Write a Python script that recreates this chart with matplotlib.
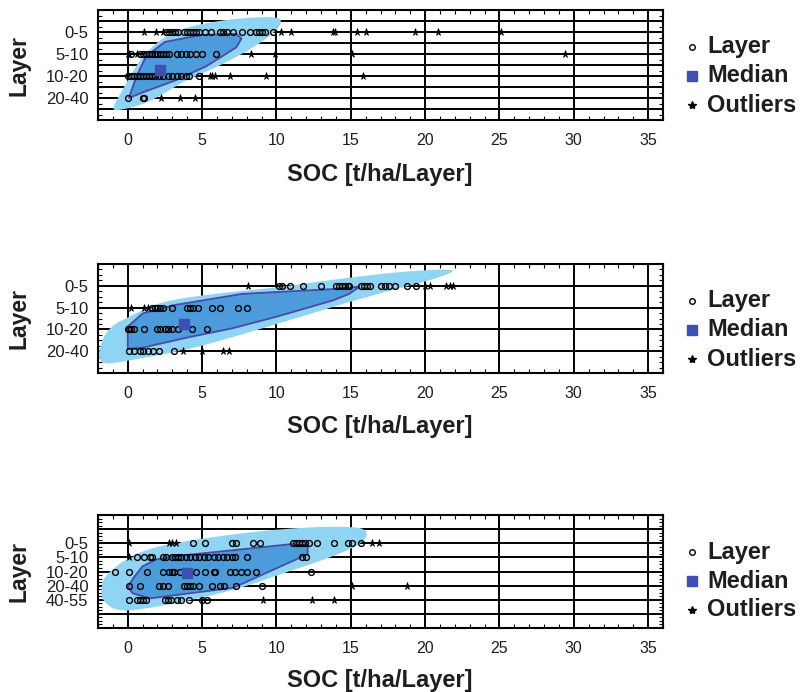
import numpy as np
import matplotlib
matplotlib.use("Agg")
import matplotlib.pyplot as plt
from matplotlib.patches import Polygon
from matplotlib.lines import Line2D

plt.rcParams['font.family'] = ['Liberation Sans', 'DejaVu Sans']

# ---------------- data ----------------
x_ticks = [0, 5, 10, 15, 20, 25, 30, 35]
xlabel = "SOC [t/ha/Layer]"
ylabel = "Layer"
legend_labels = ["Layer", "Median", "Outliers"]

# Panel 1
p1_layers = ["0-5", "5-10", "10-20", "20-40"]
p1_points = [
    [2.6, 2.8, 3.0, 3.2, 3.4, 3.8, 4.0, 4.2, 4.4, 4.6, 4.8, 5.2, 5.6, 6.2, 6.4, 6.7, 7.1, 7.7, 8.2, 8.6, 8.8, 9.0, 9.2, 9.75],
    [0.2, 0.8, 1.0, 1.2, 1.4, 1.6, 1.8, 2.0, 2.2, 2.4, 2.6, 2.8, 3.3, 3.6, 3.9, 4.2, 4.6, 5.0, 5.95],
    [0.0, 0.2, 0.4, 0.6, 0.8, 1.0, 1.2, 1.4, 1.6, 1.8, 2.1, 2.4, 2.7, 3.0, 3.3, 3.6, 3.9, 4.15, 4.8],
    [0.05, 1.0, 1.1],
]
p1_outliers = [
    [1.1, 1.9, 2.4, 10.3, 11.0, 13.8, 13.95, 15.4, 16.0, 19.3, 20.9, 25.1],
    [0.0, 0.1, 0.65, 8.3, 9.9, 15.1, 29.4],
    [5.5, 5.7, 5.9, 6.9, 9.3, 15.8],
    [2.25, 3.5, 4.55],
]
p1_median = (2.2, 2.72)
p1_bag_x = [0.07, 0.6, 1.24, 2.5, 4.8, 7.3, 7.65, 7.3, 5.3, 3.2, 1.0]
p1_bag_y = [4.0, 3.0, 2.1, 1.45, 1.15, 1.08, 1.3, 1.7, 2.55, 3.2, 3.75]
p1_fence_x = [-1.0, -0.4, 0.2, 0.9, 1.6, 2.5, 3.8, 5.6, 7.5, 9.7, 10.4, 10.1, 8.5, 6.0, 4.0, 2.2, 0.8, -0.9]
p1_fence_y = [4.4, 3.7, 2.95, 2.2, 1.7, 1.2, 0.82, 0.55, 0.38, 0.3, 0.42, 0.9, 1.7, 2.6, 3.15, 3.9, 4.35, 4.6]

# Panel 2
p2_layers = ["0-5", "5-10", "10-20", "20-40"]
p2_points = [
    [10.2, 10.4, 10.9, 11.8, 13.0, 14.0, 14.2, 14.4, 14.6, 14.8, 14.9, 15.7, 15.9, 16.1, 16.3, 17.0, 17.3, 17.6, 18.0, 18.8, 19.4],
    [1.6, 1.8, 2.0, 2.2, 2.4, 3.0, 4.0, 4.2, 4.4, 4.7, 5.7, 6.2, 7.4, 8.0],
    [0.0, 0.1, 0.25, 0.4, 1.1, 2.0, 2.2, 2.5, 2.7, 3.0, 3.4, 4.3, 5.3],
    [0.1, 0.45, 0.8, 1.0, 1.35, 1.7, 2.1, 3.1],
]
p2_outliers = [
    [8.1, 20.0, 20.3, 21.4, 21.7, 21.9],
    [0.2, 1.1, 1.35],
    [],
    [3.7, 5.0, 6.4, 6.8],
]
p2_median = (3.8, 2.76)
p2_bag_x = [0.0, 1.0, 3.0, 7.7, 13.8, 15.6, 14.9, 13.8, 10.0, 7.1, 3.9, 1.0, 0.0]
p2_bag_y = [2.87, 2.27, 1.9, 1.37, 1.15, 1.04, 1.37, 1.67, 2.42, 2.94, 3.39, 3.84, 3.9]
p2_fence_x = [-2.0, -1.3, 0.3, 2.1, 5.3, 9.75, 13.8, 18.3, 22.5, 20.6, 18.3, 15.1, 11.5, 7.1, 3.9, 0.3, -1.8]
p2_fence_y = [3.95, 2.9, 2.35, 1.75, 1.4, 1.1, 0.72, 0.35, 0.2, 0.7, 1.1, 1.7, 2.45, 3.35, 3.95, 4.4, 4.65]

# Panel 3
p3_layers = ["0-5", "5-10", "10-20", "20-40", "40-55"]
p3_points = [
    [4.4, 5.2, 7.0, 7.3, 8.4, 8.9, 11.1, 11.3, 11.5, 11.7, 11.9, 12.2, 12.7, 13.9, 14.8, 15.1, 15.7],
    [0.65, 1.1, 1.5, 1.6, 2.35, 2.6, 3.0, 3.2, 3.4, 3.6, 3.9, 4.2, 4.5, 4.8, 5.1, 5.4, 5.8, 6.1, 6.4, 6.7, 7.0, 7.2, 8.0, 11.7, 12.0],
    [-0.85, 0.07, 1.3, 2.4, 2.8, 2.95, 3.1, 3.5, 4.6, 5.2, 5.8, 5.9, 6.85, 7.2, 7.6, 8.0, 8.6, 12.3],
    [0.1, 0.8, 2.1, 2.4, 2.7, 3.8, 4.0, 4.2, 4.4, 4.8, 5.7, 6.2, 6.5, 7.3, 9.0],
    [0.1, 0.6, 0.8, 1.0, 1.2, 2.5, 2.7, 2.9, 3.3, 3.6, 4.1, 5.0, 5.3],
]
p3_outliers = [
    [0.07, 2.8, 3.0, 3.25, 16.4, 16.9],
    [0.07],
    [],
    [15.1, 18.8],
    [9.1, 12.4, 13.9],
]
p3_median = (4.0, 3.1)
p3_bag_x = [0.0, 0.46, 1.0, 1.9, 3.3, 7.0, 11.1, 12.1, 12.1, 9.1, 7.1, 1.5, 0.34]
p3_bag_y = [4.07, 3.35, 2.63, 2.15, 1.9, 1.5, 1.05, 1.17, 1.78, 3.2, 4.15, 4.9, 4.55]
p3_fence_x = [-1.8, -1.6, 0.3, 2.6, 7.1, 11.5, 15.4, 16.2, 15.8, 13.8, 10.4, 7.1, 2.6, -0.6, -1.7]
p3_fence_y = [4.3, 3.3, 1.8, 1.05, 0.35, -0.12, -0.2, 0.2, 1.0, 1.95, 3.15, 4.35, 5.4, 5.9, 5.1]

# ---------------- styling ----------------
FENCE = '#90d4f4'
BAG = '#4c9bdb'
BAG_EDGE = '#4a4aa8'
MED = '#3d4fb0'
TXT = '#1e1e1e'

W, H = 803, 692
fig = plt.figure(figsize=(W / 100, H / 100), dpi=100)


def chaikin(xs, ys, n=2):
    pts = np.column_stack([xs, ys])
    for _ in range(n):
        nxt = []
        m = len(pts)
        for i in range(m):
            a, b = pts[i], pts[(i + 1) % m]
            nxt.append(0.75 * a + 0.25 * b)
            nxt.append(0.25 * a + 0.75 * b)
        pts = np.array(nxt)
    return pts


def panel(top, bottom, layers, points, outliers, median, bag_x, bag_y,
          fence_x, fence_y, ylim, hlines, xlabel_y):
    left, right = 98, 663
    ax = fig.add_axes([left / W, 1 - bottom / H, (right - left) / W, (bottom - top) / H])
    ax.set_xlim(-2, 36)
    ax.set_ylim(*ylim)
    # grid
    for xv in x_ticks:
        ax.axvline(xv, color='black', lw=1.4, zorder=1)
    for yv in hlines:
        ax.axhline(yv, color='black', lw=1.4, zorder=1)
    # fence and bag
    ax.add_patch(Polygon(chaikin(fence_x, fence_y, 2), closed=True, facecolor=FENCE,
                         edgecolor='none', zorder=2))
    ax.add_patch(Polygon(np.column_stack([bag_x, bag_y]), closed=True, facecolor=BAG,
                         edgecolor=BAG_EDGE, lw=1.3, zorder=3))
    # points
    for i, (pts, outs) in enumerate(zip(points, outliers)):
        yv = i + 1
        ax.plot(pts, [yv] * len(pts), linestyle='none', marker='o', ms=4.2,
                mfc='none', mec='black', mew=1.0, zorder=5)
        if outs:
            ax.plot(outs, [yv] * len(outs), linestyle='none', marker='*', ms=5.5,
                    color='black', mew=0.5, zorder=5)
    ax.plot([median[0]], [median[1]], marker='s', ms=6.5, color=MED,
            linestyle='none', zorder=6)
    # ticks
    ax.set_xticks(x_ticks)
    ax.set_xticklabels([str(t) for t in x_ticks])
    ax.set_xticks(np.arange(-2, 37, 1), minor=True)
    ax.set_yticks(range(1, len(layers) + 1))
    ax.set_yticklabels(layers)
    ax.set_yticks(np.arange(ylim[1], ylim[0], 0.25), minor=True)
    ax.tick_params(axis='x', which='major', length=0, pad=9.5, labelsize=11.5, labelcolor=TXT)
    ax.tick_params(axis='y', which='major', length=0, pad=7, labelsize=12, labelcolor=TXT)
    ax.tick_params(which='minor', direction='in', length=3, width=0.8,
                   top=True, bottom=True, left=True, right=True)
    for s in ax.spines.values():
        s.set_linewidth(1.5)
    fig.text(19 / W, 1 - ((top + bottom) / 2) / H, ylabel, fontsize=16.5, fontweight='bold',
             rotation=90, ha='center', va='center', color=TXT)
    fig.text(380 / W, 1 - xlabel_y / H, xlabel, fontsize=17, fontweight='bold',
             ha='center', va='center', color=TXT)
    # legend
    rows = [top + 37, top + 66, top + 95]
    fig.add_artist(Line2D([692 / W], [1 - rows[0] / H], marker='o', ms=4, mfc='none',
                          mec='black', mew=1.0, linestyle='none', transform=fig.transFigure))
    fig.add_artist(Line2D([692 / W], [1 - rows[1] / H], marker='s', ms=6.5, color=MED,
                          linestyle='none', transform=fig.transFigure))
    fig.add_artist(Line2D([692 / W], [1 - rows[2] / H], marker='*', ms=6, color='black',
                          linestyle='none', transform=fig.transFigure))
    for r, lab in zip(rows, legend_labels):
        fig.text(707 / W, 1 - r / H, lab, fontsize=17, fontweight='bold',
                 ha='left', va='center', color=TXT)
    return ax


panel(10, 120, p1_layers, p1_points, p1_outliers, p1_median, p1_bag_x, p1_bag_y,
      p1_fence_x, p1_fence_y, (5, 0), np.arange(0.5, 5, 0.5), 175)
panel(264, 373, p2_layers, p2_points, p2_outliers, p2_median, p2_bag_x, p2_bag_y,
      p2_fence_x, p2_fence_y, (5, 0), [1, 2, 3, 4], 427)
panel(515, 628, p3_layers, p3_points, p3_outliers, p3_median, p3_bag_x, p3_bag_y,
      p3_fence_x, p3_fence_y, (7, -1), [0, 1, 2, 3, 4, 5, 6], 681)

fig.savefig("out.png", dpi=100)
